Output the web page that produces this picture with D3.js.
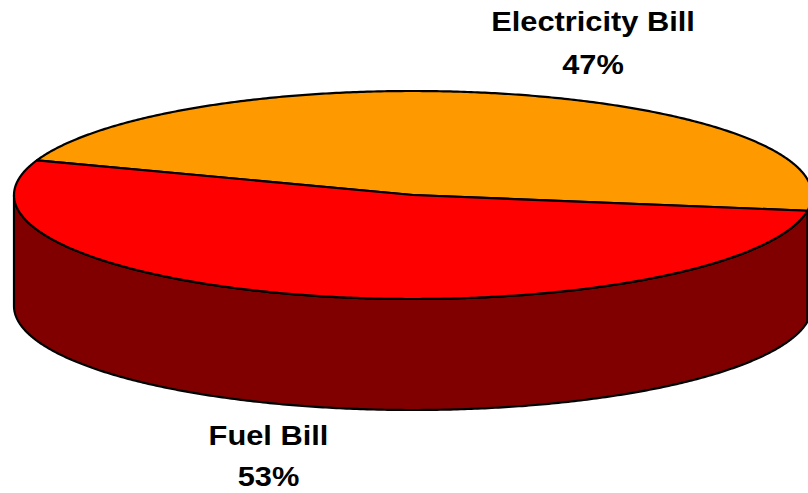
<!DOCTYPE html>
<html>
<head>
<meta charset="utf-8">
<script src="https://cdn.jsdelivr.net/npm/d3@7"></script>
<style>
  html, body { margin: 0; padding: 0; background: #fff; }
  svg { display: block; }
  text { font-family: "Liberation Sans", Arial, sans-serif; font-weight: bold; fill: #000; }
</style>
</head>
<body>
<svg id="chart" width="808" height="493"></svg>
<script>
// Share of the energy bill
const categories = ["Electricity Bill", "Fuel Bill"];
const shares = [47, 53];
const shareLabels = ["47%", "53%"];
const topColors = ["#FF9900", "#FF0000"];
const sideColors = ["#804C00", "#800000"];

const svg = d3.select("#chart");

// Tilted pie geometry: ellipse for the top face, extruded downward
const cx = 413, cy = 195, rx = 399, ry = 104, depth = 111;
const deg = Math.PI / 180;
const startRot = -70.5 * deg;

const pie = d3.pie().sort(null).value(d => d)
  .startAngle(startRot).endAngle(startRot + 2 * Math.PI);
const arcs = pie(shares);

// d3 angles run clockwise from 12 o'clock; convert to ellipse parameter
const toTheta = a => a - Math.PI / 2;
const px = t => cx + rx * Math.cos(t);
const py = (t, dz = 0) => cy + ry * Math.sin(t) + dz;

function arcPoints(t0, t1, dz) {
  const n = Math.max(2, Math.ceil(Math.abs(t1 - t0) / (0.5 * deg)));
  const pts = [];
  for (let i = 0; i <= n; i++) {
    const t = t0 + (t1 - t0) * i / n;
    pts.push([px(t), py(t, dz)]);
  }
  return pts;
}

const line = d3.line();

// Front side walls (visible between 0 and 180 degrees of the ellipse parameter)
arcs.forEach((a, i) => {
  const t0 = toTheta(a.startAngle), t1 = toTheta(a.endAngle);
  [0, 2 * Math.PI, -2 * Math.PI].forEach(shift => {
    const s = Math.max(t0 + shift, 0), e = Math.min(t1 + shift, Math.PI);
    if (e > s) {
      const top = arcPoints(s, e, 0);
      const bottom = arcPoints(e, s, depth);
      svg.append("path")
        .attr("d", line(top.concat(bottom)) + "Z")
        .attr("fill", sideColors[i])
        .attr("stroke", "#000")
        .attr("stroke-width", 2.2)
        .attr("stroke-linejoin", "round");
    }
  });
});

// Top faces
arcs.forEach((a, i) => {
  const t0 = toTheta(a.startAngle), t1 = toTheta(a.endAngle);
  const pts = [[cx, cy]].concat(arcPoints(t0, t1, 0));
  svg.append("path")
    .attr("d", line(pts) + "Z")
    .attr("fill", topColors[i])
    .attr("stroke", "#000")
    .attr("stroke-width", 2.2)
    .attr("stroke-linejoin", "round");
});

// Category labels with percentages (slightly widened glyphs)
const labelPos = [
  { x: 593, y1: 31, y2: 74 },
  { x: 268.5, y1: 445, y2: 486 }
];
categories.forEach((c, i) => {
  const g = svg.append("g")
    .attr("transform", `translate(${labelPos[i].x},0) scale(1.1,1)`)
    .attr("text-anchor", "middle")
    .style("font-size", "28px");
  g.append("text").attr("x", 0).attr("y", labelPos[i].y1).text(c);
  g.append("text").attr("x", 0).attr("y", labelPos[i].y2).text(shareLabels[i]);
});
</script>
</body>
</html>
